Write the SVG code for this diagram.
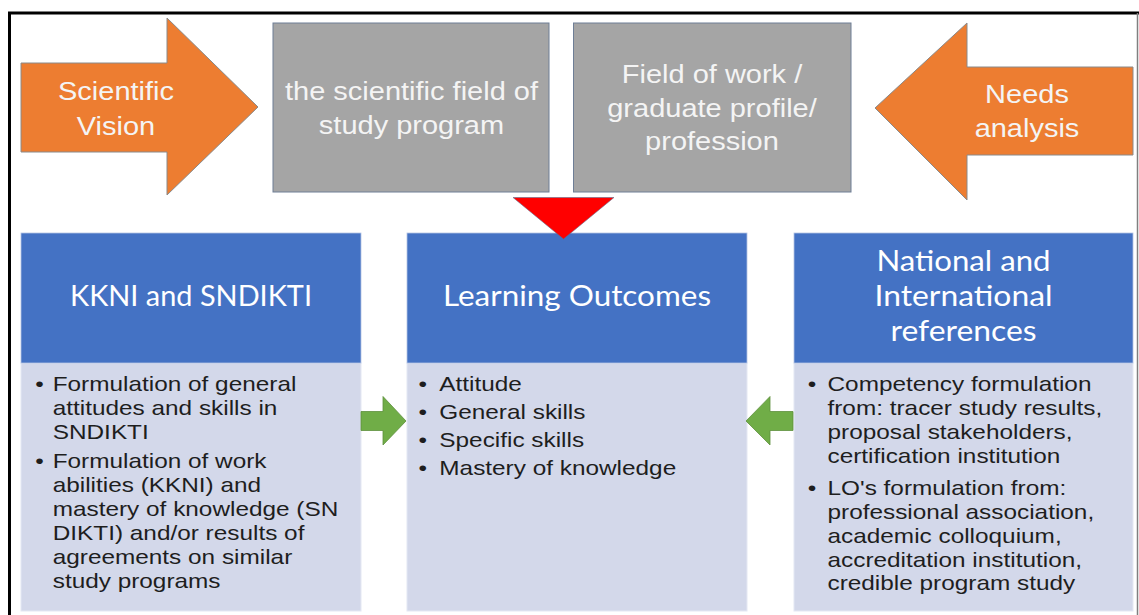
<svg xmlns="http://www.w3.org/2000/svg" width="1139" height="615" viewBox="0 0 1139 615">
<style>
.frame{stroke:#000;stroke-width:3;fill:none}
.orange{fill:#ED7D31;stroke:#8A8A8A;stroke-width:1}
.gray{fill:#A5A5A5;stroke:#6E7E96;stroke-width:1}
.blue{fill:#4472C4;stroke:#B4C4E4;stroke-width:0.8}
.light{fill:#D3D8EA;stroke:#E4E8F3;stroke-width:1}
.green{fill:#70AD47;stroke:#5E8F3E;stroke-width:0.8}
.red{fill:#FF0000;stroke:#5F6F8F;stroke-width:0.6}
.big{font-family:"Liberation Sans",Arial,sans-serif;font-size:25px;fill:#F4F4F4;text-anchor:middle}
.hdr{font-family:Lato,"Open Sans",sans-serif;font-size:29px;fill:#FFFFFF;text-anchor:middle}
.body{font-family:"Liberation Sans",Arial,sans-serif;font-size:21px;fill:#1E1E1E}
</style>
<g id="frame">
<line class="frame" x1="8" y1="13" x2="1139" y2="13"/>
<line class="frame" x1="9.5" y1="12" x2="9.5" y2="615"/>
<line x1="1137.5" y1="13" x2="1137.5" y2="615" stroke="#7F7F7F" stroke-width="1.5"/>
</g>
<g id="scientific-vision">
<path class="orange" d="M21,63 H167 V18 L258,107 L167,195 V152 H21 Z"/>
<text class="big" transform="matrix(1.16 0 0 1 116 0)"><tspan x="0" y="100">Scientific</tspan><tspan x="0" y="135">Vision</tspan></text>
</g>
<g id="scientific-field">
<rect class="gray" x="273" y="23" width="276" height="169"/>
<text class="big" transform="matrix(1.16 0 0 1 411.5 0)"><tspan x="0" y="100">the scientific field of</tspan><tspan x="0" y="134">study program</tspan></text>
</g>
<g id="field-of-work">
<rect class="gray" x="573.5" y="23" width="277.5" height="169"/>
<text class="big" transform="matrix(1.16 0 0 1 712 0)"><tspan x="0" y="83">Field of work /</tspan><tspan x="0" y="117">graduate profile/</tspan><tspan x="0" y="150">profession</tspan></text>
</g>
<g id="needs-analysis">
<path class="orange" d="M1133,67 H967 V23 L875,108 L967,200 V155 H1133 Z"/>
<text class="big" transform="matrix(1.16 0 0 1 1027 0)"><tspan x="0" y="103">Needs</tspan><tspan x="0" y="137">analysis</tspan></text>
</g>
<g id="kkni-sndikti">
<rect class="light" x="21" y="363" width="340" height="248"/>
<rect class="blue" x="21" y="233" width="340" height="130"/>
<text class="hdr" x="191" y="306" textLength="242" lengthAdjust="spacingAndGlyphs">KKNI and SNDIKTI</text>
<text class="body" transform="matrix(1.16 0 0 1 52.7 0)">
<tspan x="-15" y="391">•</tspan><tspan x="0" y="391">Formulation of general</tspan>
<tspan x="0" y="415">attitudes and skills in</tspan>
<tspan x="0" y="439">SNDIKTI</tspan>
<tspan x="-15" y="468">•</tspan><tspan x="0" y="468">Formulation of work</tspan>
<tspan x="0" y="492">abilities (KKNI) and</tspan>
<tspan x="0" y="516">mastery of knowledge (SN</tspan>
<tspan x="0" y="540">DIKTI) and/or results of</tspan>
<tspan x="0" y="564">agreements on similar</tspan>
<tspan x="0" y="588">study programs</tspan>
</text>
</g>
<g id="learning-outcomes">
<rect class="light" x="407" y="363" width="340" height="248"/>
<rect class="blue" x="407" y="233" width="340" height="130"/>
<text class="hdr" x="577" y="306" textLength="268" lengthAdjust="spacingAndGlyphs">Learning Outcomes</text>
<text class="body" transform="matrix(1.16 0 0 1 439.3 0)">
<tspan x="-18" y="391">•</tspan><tspan x="0" y="391">Attitude</tspan>
<tspan x="-18" y="419">•</tspan><tspan x="0" y="419">General skills</tspan>
<tspan x="-18" y="447">•</tspan><tspan x="0" y="447">Specific skills</tspan>
<tspan x="-18" y="475">•</tspan><tspan x="0" y="475">Mastery of knowledge</tspan>
</text>
</g>
<g id="national-international">
<rect class="light" x="794" y="363" width="339" height="248"/>
<rect class="blue" x="794" y="233" width="339" height="130"/>
<text class="hdr" x="963.5" y="271" textLength="174" lengthAdjust="spacingAndGlyphs">National and</text>
<text class="hdr" x="963.5" y="306" textLength="178" lengthAdjust="spacingAndGlyphs">International</text>
<text class="hdr" x="963.5" y="341" textLength="146" lengthAdjust="spacingAndGlyphs">references</text>
<text class="body" transform="matrix(1.16 0 0 1 827.5 0)">
<tspan x="-17" y="391">•</tspan><tspan x="0" y="391">Competency formulation</tspan>
<tspan x="0" y="415">from: tracer study results,</tspan>
<tspan x="0" y="439">proposal stakeholders,</tspan>
<tspan x="0" y="463">certification institution</tspan>
<tspan x="-17" y="495">•</tspan><tspan x="0" y="495">LO's formulation from:</tspan>
<tspan x="0" y="519">professional association,</tspan>
<tspan x="0" y="543">academic colloquium,</tspan>
<tspan x="0" y="567">accreditation institution,</tspan>
<tspan x="0" y="590">credible program study</tspan>
</text>
</g>
<g id="connectors">
<path class="red" d="M513,197.5 H614 L563.5,239 Z"/>
<path class="green" d="M361,411.5 H383 V396.5 L406,421 L383,445 V430.5 H361 Z"/>
<path class="green" d="M793,411.5 H770 V396.5 L746,421 L770,445 V430.5 H793 Z"/>
</g>
</svg>
